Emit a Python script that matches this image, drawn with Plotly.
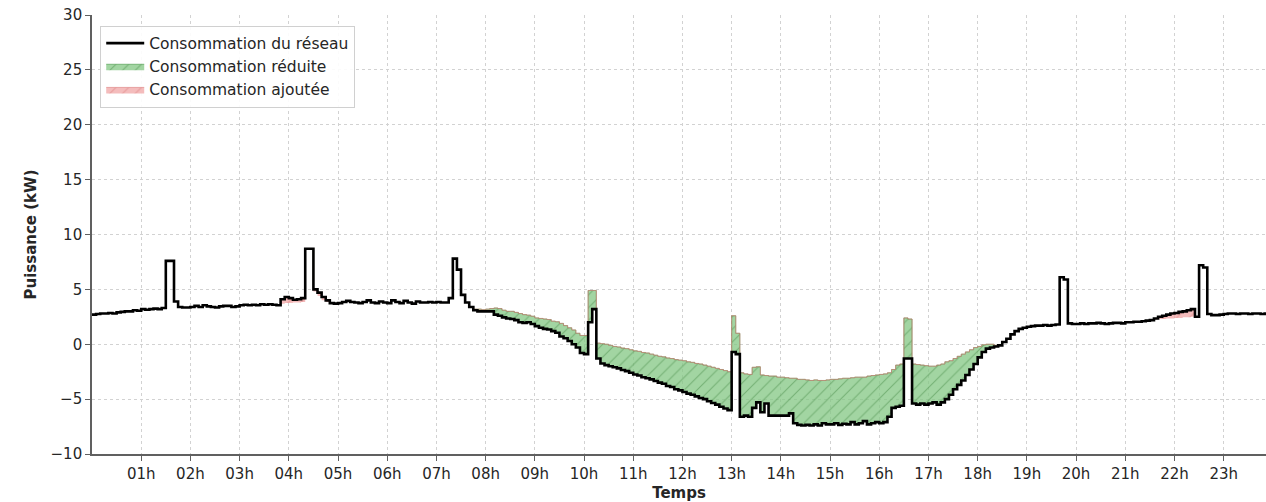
import numpy as np
import plotly.graph_objects as go

# 5-minute samples over the day (hours)
heures = [i / 12 for i in range(288)]

# Consommation mesurée au point de raccordement (kW), 12 valeurs par heure
conso_reseau = [
    2.7, 2.75, 2.8, 2.8, 2.85, 2.8, 2.9, 2.95, 3.0, 3.0, 3.1, 3.05,                 # 00h
    3.2, 3.15, 3.2, 3.25, 3.2, 3.3, 7.6, 7.6, 3.9, 3.4, 3.35, 3.35,                 # 01h
    3.4, 3.5, 3.4, 3.55, 3.45, 3.4, 3.35, 3.45, 3.5, 3.5, 3.4, 3.45,                # 02h
    3.55, 3.6, 3.55, 3.6, 3.55, 3.65, 3.6, 3.65, 3.6, 3.55, 4.1, 4.3,               # 03h
    4.2, 4.05, 4.1, 4.2, 8.7, 8.7, 5.0, 4.7, 4.3, 4.0, 3.75, 3.7,                   # 04h
    3.75, 3.85, 3.95, 3.85, 3.8, 3.75, 3.85, 4.0, 3.8, 3.75, 3.9, 3.8,              # 05h
    3.75, 4.0, 3.85, 3.75, 3.95, 3.8, 3.7, 3.9, 3.8, 3.8, 3.85, 3.8,                # 06h
    3.85, 3.8, 3.8, 4.2, 7.8, 6.8, 4.5, 3.8, 3.4, 3.1, 3.0, 3.0,                    # 07h
    3.0, 3.0, 2.7, 2.6, 2.45, 2.35, 2.3, 2.2, 2.0, 1.95, 2.0, 1.85,                 # 08h
    1.65, 1.5, 1.4, 1.35, 1.2, 1.05, 0.7, 0.55, 0.3, 0.0, -0.3, -0.8,               # 09h
    -0.9, 2.0, 3.2, -1.3, -1.75, -1.9, -2.0, -2.1, -2.2, -2.35, -2.45, -2.6,        # 10h
    -2.75, -2.85, -3.0, -3.1, -3.2, -3.35, -3.5, -3.6, -3.8, -3.9, -4.1, -4.2,      # 11h
    -4.35, -4.5, -4.6, -4.75, -4.9, -5.0, -5.2, -5.35, -5.5, -5.7, -5.85, -6.0,     # 12h
    -0.7, -0.9, -6.6, -6.5, -6.6, -5.8, -5.3, -6.2, -5.4, -6.5, -6.5, -6.5,         # 13h
    -6.5, -6.5, -6.3, -7.2, -7.35, -7.4, -7.35, -7.4, -7.3, -7.4, -7.2, -7.3,       # 14h
    -7.3, -7.2, -7.35, -7.25, -7.3, -7.1, -7.3, -7.2, -7.0, -7.3, -7.2, -7.1,       # 15h
    -7.2, -7.1, -6.6, -5.8, -5.7, -5.6, -1.3, -1.3, -5.4, -5.5, -5.4, -5.5,         # 16h
    -5.4, -5.3, -5.5, -5.3, -5.0, -4.6, -4.1, -3.7, -3.3, -2.8, -2.3, -1.8,         # 17h
    -1.2, -0.7, -0.4, -0.3, -0.2, -0.1, 0.2, 0.5, 0.9, 1.2, 1.4, 1.5,               # 18h
    1.6, 1.65, 1.7, 1.7, 1.75, 1.7, 1.75, 1.8, 6.1, 5.9, 1.9, 1.85,                 # 19h
    1.85, 1.9, 1.85, 1.9, 1.9, 1.95, 1.9, 1.85, 1.9, 1.95, 1.95, 1.9,               # 20h
    2.0, 2.0, 2.05, 2.05, 2.1, 2.15, 2.2, 2.35, 2.5, 2.6, 2.7, 2.8,                 # 21h
    2.85, 2.95, 3.0, 3.1, 3.2, 2.5, 7.2, 7.0, 2.75, 2.65, 2.65, 2.7,                # 22h
    2.75, 2.8, 2.8, 2.75, 2.8, 2.8, 2.75, 2.8, 2.8, 2.75, 2.8, 2.8,                 # 23h
]

# Consommation de référence, sans pilotage (kW)
conso_reference = [
    2.7, 2.75, 2.8, 2.8, 2.85, 2.8, 2.9, 2.95, 3.0, 3.0, 3.1, 3.05,                 # 00h
    3.2, 3.15, 3.2, 3.25, 3.2, 3.3, 7.6, 7.6, 3.9, 3.4, 3.35, 3.35,                 # 01h
    3.4, 3.5, 3.4, 3.55, 3.45, 3.4, 3.35, 3.45, 3.5, 3.5, 3.4, 3.45,                # 02h
    3.55, 3.6, 3.55, 3.6, 3.55, 3.65, 3.6, 3.65, 3.6, 3.55, 3.7, 3.75,              # 03h
    3.75, 3.8, 3.8, 3.85, 8.7, 8.7, 4.8, 4.4, 4.0, 3.85, 3.75, 3.7,                 # 04h
    3.75, 3.85, 3.95, 3.85, 3.8, 3.75, 3.85, 4.0, 3.8, 3.75, 3.9, 3.8,              # 05h
    3.75, 4.0, 3.85, 3.75, 3.95, 3.8, 3.7, 3.9, 3.8, 3.8, 3.85, 3.8,                # 06h
    3.85, 3.8, 3.8, 4.2, 7.8, 6.8, 4.5, 3.8, 3.4, 3.2, 3.2, 3.15,                   # 07h
    3.2, 3.25, 3.3, 3.25, 3.1, 3.0, 3.0, 2.9, 2.8, 2.7, 2.65, 2.55,                 # 08h
    2.4, 2.35, 2.3, 2.25, 2.1, 2.05, 1.9, 1.7, 1.5, 1.3, 1.0, 0.8,                  # 09h
    0.8, 4.9, 4.9, 0.1, 0.05, 0.0, -0.1, -0.2, -0.25, -0.35, -0.4, -0.5,            # 10h
    -0.6, -0.65, -0.75, -0.8, -0.9, -1.0, -1.1, -1.15, -1.25, -1.3, -1.4, -1.45,    # 11h
    -1.5, -1.6, -1.65, -1.75, -1.8, -1.9, -2.0, -2.1, -2.2, -2.3, -2.4, -2.5,       # 12h
    2.6, 1.0, -2.6, -2.7, -2.75, -2.1, -2.05, -2.8, -2.85, -2.9, -2.9, -3.0,        # 13h
    -3.0, -3.05, -3.1, -3.1, -3.2, -3.2, -3.25, -3.3, -3.25, -3.3, -3.3, -3.25,     # 14h
    -3.2, -3.2, -3.15, -3.1, -3.1, -3.05, -3.0, -3.0, -3.0, -2.9, -2.85, -2.8,      # 15h
    -2.75, -2.7, -2.6, -2.3, -1.9, -1.8, 2.4, 2.3, -1.8, -1.85, -1.9, -1.95,        # 16h
    -2.0, -2.0, -1.9, -1.8, -1.6, -1.5, -1.3, -1.1, -0.9, -0.7, -0.5, -0.3,         # 17h
    -0.2, -0.05, 0.0, 0.0, -0.1, -0.1, 0.2, 0.5, 0.9, 1.2, 1.4, 1.5,                # 18h
    1.6, 1.65, 1.7, 1.7, 1.75, 1.7, 1.75, 1.8, 6.1, 5.9, 1.9, 1.85,                 # 19h
    1.85, 1.9, 1.85, 1.9, 1.9, 1.95, 1.9, 1.85, 1.9, 1.95, 1.95, 1.9,               # 20h
    2.0, 2.0, 2.05, 2.05, 2.1, 2.15, 2.2, 2.25, 2.3, 2.3, 2.35, 2.35,               # 21h
    2.4, 2.4, 2.45, 2.45, 2.5, 2.5, 7.2, 7.0, 2.75, 2.65, 2.65, 2.7,                # 22h
    2.75, 2.8, 2.8, 2.75, 2.8, 2.8, 2.75, 2.8, 2.8, 2.75, 2.8, 2.8,                 # 23h
]

heures_ticks = list(range(1, 24))
labels_ticks = [f"{h:02d}h" for h in heures_ticks]
y_ticks = [-10, -5, 0, 5, 10, 15, 20, 25, 30]

reseau = np.array(conso_reseau)
reference = np.array(conso_reference)

fig = go.Figure()

# Zone réduite : entre la consommation réseau et la référence quand celle-ci est au-dessus
fig.add_trace(go.Scatter(x=heures, y=reseau, mode="lines", line=dict(width=0, shape="hv"),
                         showlegend=False, hoverinfo="skip"))
fig.add_trace(go.Scatter(
    x=heures, y=np.maximum(reference, reseau), mode="lines", fill="tonexty",
    line=dict(width=1, color="rgba(70,150,70,0.6)", shape="hv"),
    fillcolor="rgba(125,195,125,0.75)",
    fillpattern=dict(shape="/", fgcolor="rgba(40,115,40,0.75)", bgcolor="rgba(130,198,130,0.75)",
                     size=9, solidity=0.12),
    name="Consommation réduite", legendrank=2,
))

# Zone ajoutée : la consommation réseau dépasse la référence
fig.add_trace(go.Scatter(x=heures, y=reference, mode="lines", line=dict(width=0, shape="hv"),
                         showlegend=False, hoverinfo="skip"))
fig.add_trace(go.Scatter(
    x=heures, y=np.maximum(reseau, reference), mode="lines", fill="tonexty",
    line=dict(width=1, color="rgba(220,120,120,0.6)", shape="hv"),
    fillcolor="rgba(235,150,150,0.7)",
    fillpattern=dict(shape="/", fgcolor="rgba(210,105,105,0.8)", bgcolor="rgba(240,160,160,0.7)",
                     size=9, solidity=0.12),
    name="Consommation ajoutée", legendrank=3,
))

# Consommation du réseau
fig.add_trace(go.Scatter(
    x=heures, y=reseau, mode="lines",
    line=dict(color="black", width=2.6, shape="hv"),
    name="Consommation du réseau", legendrank=1,
))

fig.update_layout(
    width=1266, height=502,
    margin=dict(l=92, r=0, t=15, b=48),
    plot_bgcolor="white", paper_bgcolor="white",
    font=dict(family="DejaVu Sans", size=15, color="#262626"),
    legend=dict(
        x=0.007, y=0.976, xanchor="left", yanchor="top",
        bgcolor="rgba(255,255,255,0.9)", bordercolor="#d0d0d0", borderwidth=1,
        font=dict(size=15.5, color="#262626"), itemwidth=38, tracegroupgap=2,
        traceorder="normal",
    ),
    xaxis=dict(
        range=[0, 23.86], tickvals=heures_ticks, ticktext=labels_ticks,
        showgrid=True, gridcolor="#d2d2d2", griddash="3px,3px", gridwidth=0.8,
        showline=True, linecolor="#606060", linewidth=1.6,
        ticks="outside", ticklen=5, tickcolor="#606060", zeroline=False,
        tickfont=dict(size=15),
        title=dict(text="<b>Temps</b>", standoff=6, font=dict(size=15)),
    ),
    yaxis=dict(
        range=[-10, 30], tickvals=y_ticks, ticktext=[str(v).replace("-", "−") for v in y_ticks],
        showgrid=True, gridcolor="#d2d2d2", griddash="3px,3px", gridwidth=0.8,
        showline=True, linecolor="#606060", linewidth=1.6,
        ticks="outside", ticklen=5, tickcolor="#606060", zeroline=False,
        tickfont=dict(size=15),
        title=dict(text="<b>Puissance (kW)</b>", standoff=10, font=dict(size=15)),
    ),
)

fig.write_html("out.html")
